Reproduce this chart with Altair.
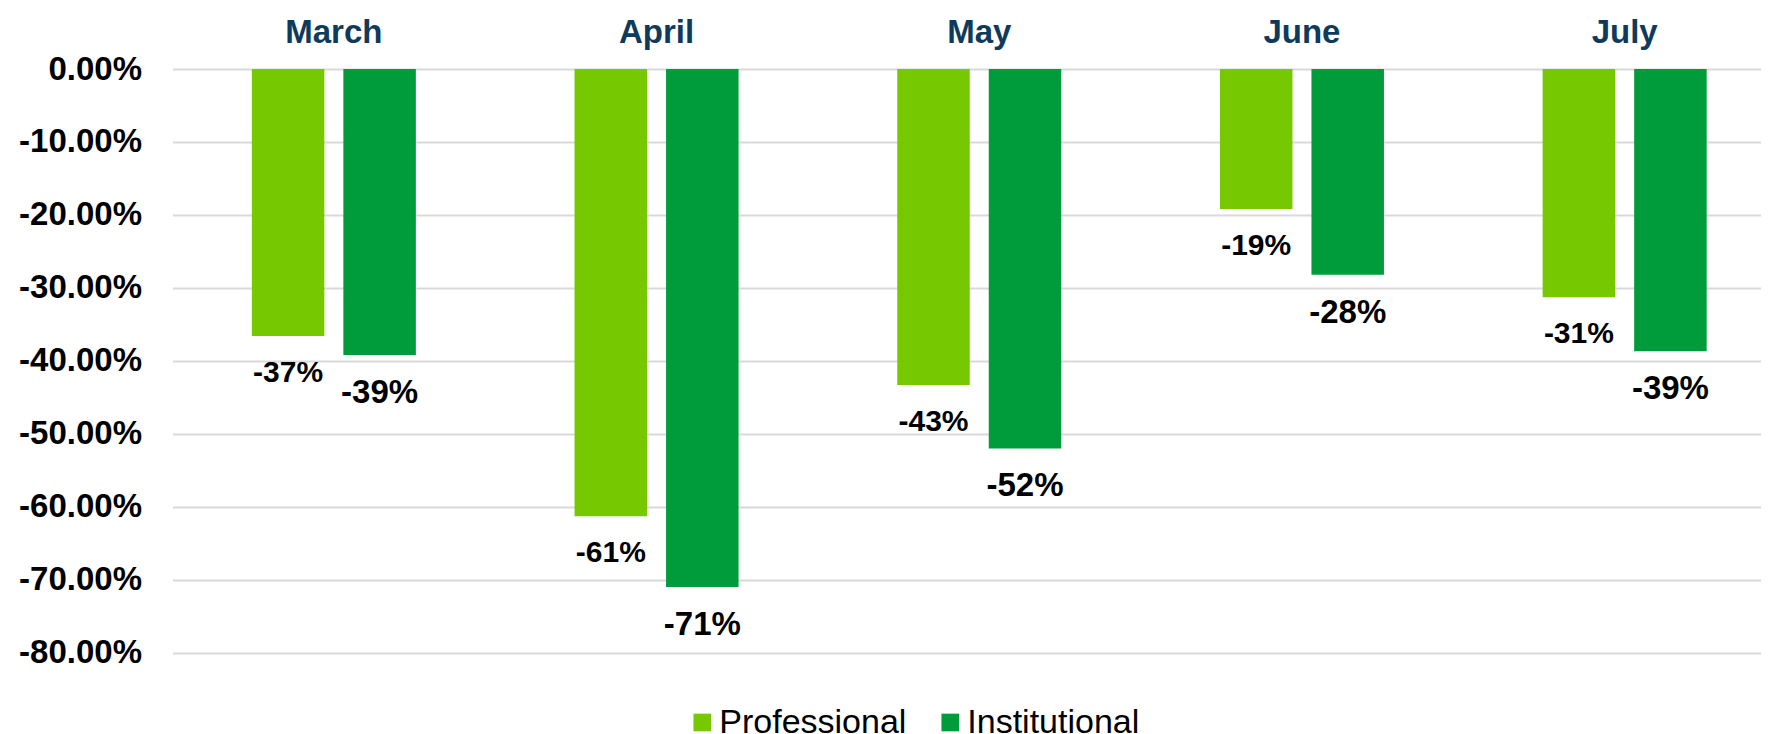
import altair as alt
import pandas as pd

months = ["March", "April", "May", "June", "July"]
series = ["Professional", "Institutional"]
professional = [-36.6, -61.3, -43.3, -19.2, -31.3]
institutional = [-39.2, -71.0, -52.0, -28.2, -38.7]
colors = ["#76C800", "#009C3B"]
y_ticks = [0, -0.1, -0.2, -0.3, -0.4, -0.5, -0.6, -0.7, -0.8]

rows = []
for m, p, i in zip(months, professional, institutional):
    rows.append({"month": m, "series": "Professional", "value": p / 100, "label": f"{round(p)}%"})
    rows.append({"month": m, "series": "Institutional", "value": i / 100, "label": f"{round(i)}%"})
df = pd.DataFrame(rows)

FONT = "Liberation Sans"
W = 1613.5
H = 583.7
LEFT = 164.5
TOP = 61
RIGHT = 1753 - LEFT - W
BOTTOM = 726 - TOP - H

x_enc = alt.X(
    "month:N",
    sort=months,
    scale=alt.Scale(paddingInner=0, paddingOuter=0, round=False),
    axis=alt.Axis(
        orient="top", title=None, labelFontSize=33, labelFontWeight="bold",
        labelColor="#0E3A5C", labelFont=FONT, ticks=False, tickSize=0,
        domain=False, labelPadding=27, labelBaseline="alphabetic",
        labelAngle=0, grid=False,
    ),
)
xo_enc = alt.XOffset("series:N", sort=series,
                     scale=alt.Scale(paddingInner=0.2077, paddingOuter=0.867, round=False))
y_enc = alt.Y(
    "value:Q",
    scale=alt.Scale(domain=[-0.8, 0], nice=False),
    axis=alt.Axis(
        values=y_ticks, title=None, ticks=False, tickSize=0, domain=False,
        labelExpr="(datum.value < 0 ? '-' : '') + format(abs(datum.value), '.2%')",
        labelPadding=31, labelFontSize=33, labelFontWeight="bold", labelColor="black",
        labelFont=FONT, gridColor="#D9D9D9", gridWidth=2,
    ),
)

base = alt.Chart(df).encode(x=x_enc, xOffset=xo_enc, y=y_enc)

bars = base.mark_bar().encode(
    color=alt.Color(
        "series:N", sort=series,
        scale=alt.Scale(domain=series, range=colors),
        legend=alt.Legend(
            title=None, orient="none", direction="horizontal",
            legendX=512.8, legendY=636.5, symbolType="square", symbolSize=313,
            symbolStrokeWidth=0, labelFontSize=34, labelFont=FONT, labelColor="black",
            labelOffset=0, columnPadding=26, padding=0, labelLimit=0,
        ),
    )
)

text_p = base.transform_filter(alt.datum.series == "Professional").mark_text(
    baseline="alphabetic", dy=46, fontSize=30, fontWeight="bold", font=FONT, color="black"
).encode(text="label:N")

text_i = base.transform_filter(alt.datum.series == "Institutional").mark_text(
    baseline="alphabetic", dy=48, fontSize=33, fontWeight="bold", font=FONT, color="black"
).encode(text="label:N")

chart = (
    alt.layer(bars, text_p, text_i)
    .properties(
        width=W, height=H, background="white",
        autosize=alt.AutoSizeParams(type="none"),
        padding={"left": LEFT, "top": TOP, "right": RIGHT, "bottom": BOTTOM},
    )
    .configure_view(stroke=None)
)

chart.save("out.html", embed_options={"renderer": "svg", "actions": False})
